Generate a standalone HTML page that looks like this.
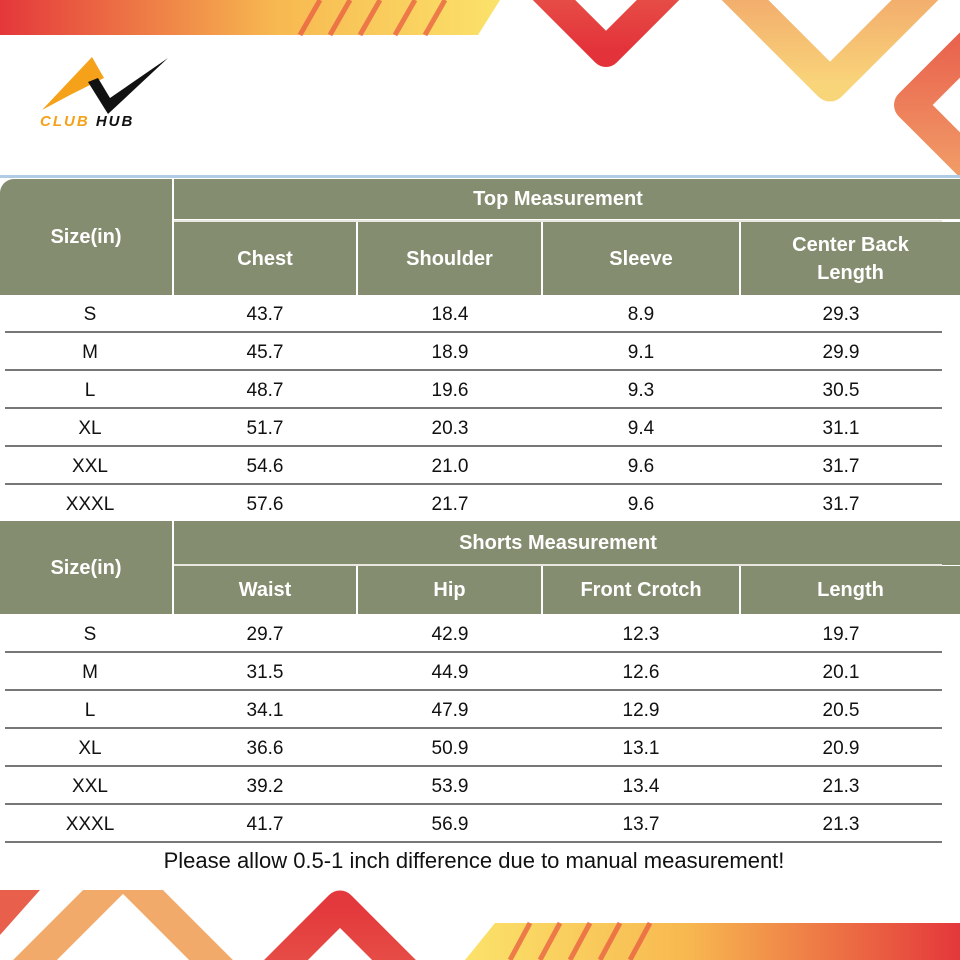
<!DOCTYPE html>
<html><head><meta charset="utf-8"><style>
body{margin:0;width:960px;height:960px;background:#fff;overflow:hidden;position:relative;font-family:"Liberation Sans",Arial,sans-serif}
.abs{position:absolute}
.h{position:absolute;background:#858d70;color:#fff;font-weight:bold;font-size:20px;display:flex;align-items:center;justify-content:center;text-align:center;line-height:28px}
.c{position:absolute;font-size:19px;color:#111;text-align:center;width:200px;margin-left:-100px}
.ln{position:absolute;left:5px;width:937px;height:2px;background:#777}
</style></head><body>
<svg class="abs" style="left:0;top:0" width="960" height="960">
<defs>
<linearGradient id="g1" x1="0" x2="1"><stop offset="0" stop-color="#e4373b"/><stop offset="0.55" stop-color="#f7b850"/><stop offset="1" stop-color="#fbe26a"/></linearGradient>
<linearGradient id="g2" x1="1" x2="0"><stop offset="0" stop-color="#e4373b"/><stop offset="0.55" stop-color="#f7b850"/><stop offset="1" stop-color="#fbe26a"/></linearGradient>
<linearGradient id="gr" x1="0" y1="0" x2="0" y2="1"><stop offset="0" stop-color="#e85a4c"/><stop offset="1" stop-color="#e3323a"/></linearGradient>
<linearGradient id="gr2" x1="0" y1="0" x2="0" y2="1"><stop offset="0" stop-color="#e3383c"/><stop offset="1" stop-color="#e85a4c"/></linearGradient>
<linearGradient id="go" x1="0" y1="0" x2="0" y2="1"><stop offset="0" stop-color="#f0a068"/><stop offset="1" stop-color="#f9d57a"/></linearGradient>
<linearGradient id="gk" x1="0" y1="0" x2="0" y2="1"><stop offset="0" stop-color="#e85a4a"/><stop offset="1" stop-color="#f2a36a"/></linearGradient>
<clipPath id="cb"><rect x="0" y="890" width="960" height="70"/></clipPath>
<clipPath id="ct"><rect x="0" y="0" width="960" height="175"/></clipPath>
</defs>
<polygon points="0,0 500,0 478,35 0,35" fill="url(#g1)"/>
<g stroke="#e8553f" stroke-width="5" opacity="0.7"><line x1="300" y1="35" x2="320" y2="0"/><line x1="330" y1="35" x2="350" y2="0"/><line x1="360" y1="35" x2="380" y2="0"/><line x1="395" y1="35" x2="415" y2="0"/><line x1="425" y1="35" x2="445" y2="0"/></g>
<polyline points="526,-28 606,52 686,-28" fill="none" stroke="url(#gr)" stroke-width="30" stroke-linejoin="round"/>
<polyline points="715,-30 830,85 945,-30" fill="none" stroke="url(#go)" stroke-width="33" stroke-linejoin="round"/>
<g clip-path="url(#ct)"><polyline points="995,20 910,105 995,190" fill="none" stroke="url(#gk)" stroke-width="32" stroke-linejoin="round"/></g>
<rect x="0" y="175" width="960" height="3" fill="#b0cce4"/>
<polygon points="465,960 495,923 960,923 960,960" fill="url(#g2)"/>
<g stroke="#e8553f" stroke-width="5" opacity="0.7"><line x1="510" y1="960" x2="530" y2="923"/><line x1="540" y1="960" x2="560" y2="923"/><line x1="570" y1="960" x2="590" y2="923"/><line x1="600" y1="960" x2="620" y2="923"/><line x1="630" y1="960" x2="650" y2="923"/></g>
<g clip-path="url(#cb)">
<polyline points="0,995 123,872 246,995" fill="none" stroke="#f2aa6a" stroke-width="31" stroke-linejoin="round"/>
<polyline points="250,996 340,906 430,996" fill="none" stroke="url(#gr2)" stroke-width="31" stroke-linejoin="round"/>
<polygon points="0,890 40,890 0,935" fill="#e8604c"/>
</g>
<polygon points="42,110 92,57 104,78 70,95" fill="#f5a21a"/>
<polygon points="88,82 98,78 110,98 168,58 108,114" fill="#111"/>
</svg>
<div class="abs" style="left:40px;top:113px;font-size:15px;font-weight:bold;font-style:italic;letter-spacing:2px"><span style="color:#f5a21a">CLUB</span> <span style="color:#111">HUB</span></div>

<div class="h" style="left:0;top:179px;width:172px;height:116px;border-top-left-radius:14px">Size(in)</div>
<div class="h" style="left:174px;top:179px;width:786px;height:40px"><span style="position:absolute;left:0;width:768px;text-align:center">Top Measurement</span></div>
<div class="h" style="left:174px;top:222px;width:182px;height:73px">Chest</div>
<div class="h" style="left:358px;top:222px;width:183px;height:73px">Shoulder</div>
<div class="h" style="left:543px;top:222px;width:196px;height:73px">Sleeve</div>
<div class="h" style="left:741px;top:222px;width:219px;height:73px"><span style="width:201px">Center Back<br>Length</span></div>
<div class="abs" style="left:174px;top:220px;width:768px;height:2px;background:#e8e8e0"></div>

<div class="h" style="left:0;top:521px;width:172px;height:93px">Size(in)</div>
<div class="h" style="left:174px;top:521px;width:786px;height:44px"><span style="position:absolute;left:0;width:768px;text-align:center">Shorts Measurement</span></div>
<div class="abs" style="left:174px;top:564px;width:768px;height:2px;background:#e8e8e0"></div>
<div class="h" style="left:174px;top:566px;width:182px;height:48px">Waist</div>
<div class="h" style="left:358px;top:566px;width:183px;height:48px">Hip</div>
<div class="h" style="left:543px;top:566px;width:196px;height:48px">Front Crotch</div>
<div class="h" style="left:741px;top:566px;width:219px;height:48px"><span style="width:201px">Length</span></div>

<div class="ln" style="top:331px"></div><div class="ln" style="top:369px"></div><div class="ln" style="top:407px"></div><div class="ln" style="top:445px"></div><div class="ln" style="top:483px"></div>
<div class="ln" style="top:651px"></div><div class="ln" style="top:689px"></div><div class="ln" style="top:727px"></div><div class="ln" style="top:765px"></div><div class="ln" style="top:803px"></div><div class="ln" style="top:841px"></div>

<div class="c" style="left:90px;top:304px">S</div><div class="c" style="left:265px;top:304px">43.7</div><div class="c" style="left:450px;top:304px">18.4</div><div class="c" style="left:641px;top:304px">8.9</div><div class="c" style="left:841px;top:304px">29.3</div>
<div class="c" style="left:90px;top:342px">M</div><div class="c" style="left:265px;top:342px">45.7</div><div class="c" style="left:450px;top:342px">18.9</div><div class="c" style="left:641px;top:342px">9.1</div><div class="c" style="left:841px;top:342px">29.9</div>
<div class="c" style="left:90px;top:380px">L</div><div class="c" style="left:265px;top:380px">48.7</div><div class="c" style="left:450px;top:380px">19.6</div><div class="c" style="left:641px;top:380px">9.3</div><div class="c" style="left:841px;top:380px">30.5</div>
<div class="c" style="left:90px;top:418px">XL</div><div class="c" style="left:265px;top:418px">51.7</div><div class="c" style="left:450px;top:418px">20.3</div><div class="c" style="left:641px;top:418px">9.4</div><div class="c" style="left:841px;top:418px">31.1</div>
<div class="c" style="left:90px;top:456px">XXL</div><div class="c" style="left:265px;top:456px">54.6</div><div class="c" style="left:450px;top:456px">21.0</div><div class="c" style="left:641px;top:456px">9.6</div><div class="c" style="left:841px;top:456px">31.7</div>
<div class="c" style="left:90px;top:494px">XXXL</div><div class="c" style="left:265px;top:494px">57.6</div><div class="c" style="left:450px;top:494px">21.7</div><div class="c" style="left:641px;top:494px">9.6</div><div class="c" style="left:841px;top:494px">31.7</div>

<div class="c" style="left:90px;top:624px">S</div><div class="c" style="left:265px;top:624px">29.7</div><div class="c" style="left:450px;top:624px">42.9</div><div class="c" style="left:641px;top:624px">12.3</div><div class="c" style="left:841px;top:624px">19.7</div>
<div class="c" style="left:90px;top:662px">M</div><div class="c" style="left:265px;top:662px">31.5</div><div class="c" style="left:450px;top:662px">44.9</div><div class="c" style="left:641px;top:662px">12.6</div><div class="c" style="left:841px;top:662px">20.1</div>
<div class="c" style="left:90px;top:700px">L</div><div class="c" style="left:265px;top:700px">34.1</div><div class="c" style="left:450px;top:700px">47.9</div><div class="c" style="left:641px;top:700px">12.9</div><div class="c" style="left:841px;top:700px">20.5</div>
<div class="c" style="left:90px;top:738px">XL</div><div class="c" style="left:265px;top:738px">36.6</div><div class="c" style="left:450px;top:738px">50.9</div><div class="c" style="left:641px;top:738px">13.1</div><div class="c" style="left:841px;top:738px">20.9</div>
<div class="c" style="left:90px;top:776px">XXL</div><div class="c" style="left:265px;top:776px">39.2</div><div class="c" style="left:450px;top:776px">53.9</div><div class="c" style="left:641px;top:776px">13.4</div><div class="c" style="left:841px;top:776px">21.3</div>
<div class="c" style="left:90px;top:814px">XXXL</div><div class="c" style="left:265px;top:814px">41.7</div><div class="c" style="left:450px;top:814px">56.9</div><div class="c" style="left:641px;top:814px">13.7</div><div class="c" style="left:841px;top:814px">21.3</div>

<div class="abs" style="left:0;width:948px;top:848px;text-align:center;font-size:22px;color:#111">Please allow 0.5-1 inch difference due to manual measurement!</div>
</body></html>
